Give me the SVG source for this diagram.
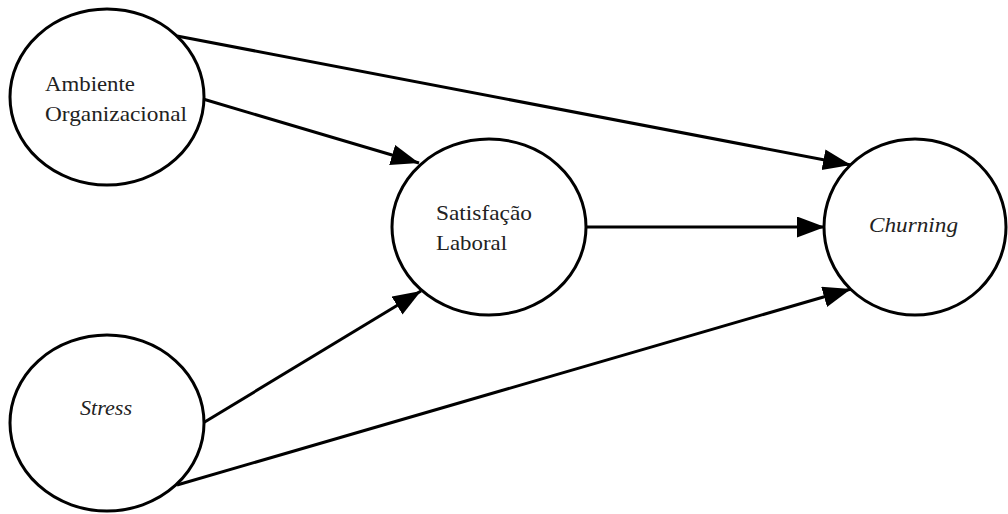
<svg xmlns="http://www.w3.org/2000/svg" width="1008" height="514" viewBox="0 0 1008 514">
<style>
.node ellipse{fill:#fff;stroke:#000;stroke-width:3}
.lbl{font-family:'Liberation Serif','DejaVu Serif',serif;font-size:22px;fill:#222}
.it{font-style:italic}
.edge{stroke:#000;stroke-width:3;fill:none;marker-end:url(#ah)}
</style>
<defs>
<marker id="ah" markerUnits="userSpaceOnUse" markerWidth="30" markerHeight="22" refX="28" refY="10.5" orient="auto">
<path d="M0,0 L28,10.5 L0,21 z" fill="#000"/>
</marker>
</defs>
<rect width="1008" height="514" fill="#fff"/>
<g id="connectors">
<line class="edge" x1="177" y1="36" x2="851" y2="165"/>
<line class="edge" x1="203" y1="99" x2="419" y2="163"/>
<line class="edge" x1="586" y1="227" x2="825" y2="227"/>
<line class="edge" x1="203" y1="423" x2="421" y2="291"/>
<line class="edge" x1="177" y1="485" x2="851" y2="289"/>
</g>
<g id="ambiente" class="node">
<ellipse cx="107" cy="97" rx="97" ry="88"/>
<text class="lbl" font-family="Liberation Serif, DejaVu Serif, serif" x="45" y="91" textLength="90" lengthAdjust="spacingAndGlyphs">Ambiente</text>
<text class="lbl" font-family="Liberation Serif, DejaVu Serif, serif" x="45" y="121" textLength="142" lengthAdjust="spacingAndGlyphs">Organizacional</text>
</g>
<g id="satisfacao" class="node">
<ellipse cx="489" cy="227" rx="97" ry="88"/>
<text class="lbl" font-family="Liberation Serif, DejaVu Serif, serif" x="436" y="220" textLength="96" lengthAdjust="spacingAndGlyphs">Satisfação</text>
<text class="lbl" font-family="Liberation Serif, DejaVu Serif, serif" x="436" y="250" textLength="71" lengthAdjust="spacingAndGlyphs">Laboral</text>
</g>
<g id="churning" class="node">
<ellipse cx="915" cy="227" rx="91" ry="88"/>
<text class="lbl it" font-family="Liberation Serif, DejaVu Serif, serif" x="869" y="232" textLength="89" lengthAdjust="spacingAndGlyphs">Churning</text>
</g>
<g id="stress" class="node">
<ellipse cx="107" cy="423" rx="97" ry="88"/>
<text class="lbl it" font-family="Liberation Serif, DejaVu Serif, serif" x="80" y="415" textLength="52" lengthAdjust="spacingAndGlyphs">Stress</text>
</g>
</svg>
